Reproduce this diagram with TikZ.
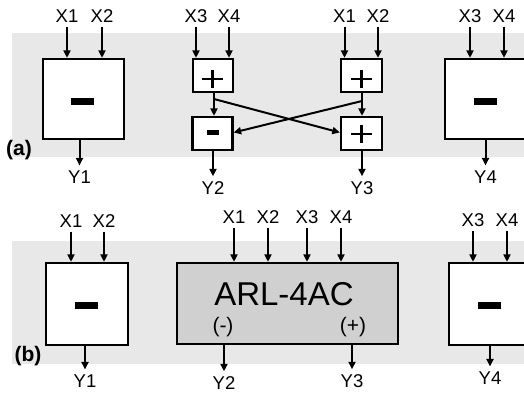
\documentclass[tikz,border=0pt]{standalone}
\usepackage{fontspec}
\setmainfont{Liberation Sans}
\usetikzlibrary{arrows.meta}
\definecolor{band}{HTML}{E8E8E8}
\definecolor{arlgray}{HTML}{D0D0D0}
\begin{document}
\begin{tikzpicture}[x=1pt,y=-1pt,
  lbl/.style={inner sep=0pt,font=\fontsize{18.5}{18.5}\selectfont},
  panel/.style={font=\fontsize{21}{21}\selectfont\bfseries,inner sep=0pt},
  box/.style={draw,line width=2.3pt,fill=white,inner sep=0pt},
  arr/.style={line width=2pt,-{Triangle[length=7.5pt,width=7pt]}},
  bigbar/.style={fill=black,minimum width=23pt,minimum height=7pt,inner sep=0pt},
  smallbar/.style={fill=black,minimum width=12pt,minimum height=4.5pt,inner sep=0pt},
  plusline/.style={line width=2.7pt}
]
\useasboundingbox (0,0) rectangle (524,392);
\begin{scope}
\clip (0,0) rectangle (524,392);
% bands
\fill[band] (12,33) rectangle (530,157);
\fill[band] (12,241) rectangle (530,364);

% ---------- panel (a) ----------
\node[box,minimum width=81pt,minimum height=80pt] (A) at (83.5,99) {};
\node[bigbar] (Abar) at (82.5,101.5) {};
\node[box,minimum width=40pt,minimum height=33pt] (P1) at (213,75.5) {};
\node[box,minimum width=40pt,minimum height=33pt] (M1) at (212.5,133.5) {};
\node[box,minimum width=41pt,minimum height=33pt] (P2) at (361.5,75.5) {};
\node[box,minimum width=41pt,minimum height=33pt] (P3) at (361.5,133.5) {};
\node[box,minimum width=81pt,minimum height=80pt] (D) at (485.5,99) {};
\node[bigbar] (Dbar) at (485,101.5) {};
% plus / minus glyphs
\draw[plusline] (202,79) -- (223,79) (212.5,70) -- (212.5,88);
\draw[plusline] (351,79) -- (372,79) (361.5,70) -- (361.5,88);
\draw[plusline] (351,134) -- (372,134) (361.5,125) -- (361.5,143);
\node[smallbar] (Mbar) at (212.5,132.5) {};

\node[panel] (la) at (19,150) {(a)};

% inputs
\node[lbl] (aX1) at (67,16) {X1};
\node[lbl] (aX2) at (102,16) {X2};
\node[lbl] (aX3) at (196,16) {X3};
\node[lbl] (aX4) at (229,16) {X4};
\node[lbl] (aX1b) at (344.5,16) {X1};
\node[lbl] (aX2b) at (378,16) {X2};
\node[lbl] (aX3b) at (470,16) {X3};
\node[lbl] (aX4b) at (504,16) {X4};
\foreach \l/\b in {aX1/A,aX2/A,aX3/P1,aX4/P1,aX1b/P2,aX2b/P2,aX3b/D,aX4b/D}
  \draw[arr,shorten <=4pt] (\l.south) -- (\l.south |- \b.north);

% outputs
\node[lbl] (aY1) at (79.5,177) {Y1};
\node[lbl] (aY2) at (213,188) {Y2};
\node[lbl] (aY3) at (362,188) {Y3};
\node[lbl] (aY4) at (485.5,177) {Y4};
\draw[arr,shorten >=5pt] (A.south -| aY1) -- (aY1.north);
\draw[arr,shorten >=5pt] (M1.south -| aY2) -- (aY2.north);
\draw[arr,shorten >=5pt] (P3.south -| aY3) -- (aY3.north);
\draw[arr,shorten >=5pt] (D.south -| aY4) -- (aY4.north);

% internal connections
\coordinate (c1) at (214,99);
\coordinate (c2) at (362,101);
\draw[arr] (P1.south -| c1) -- (M1.north -| c1);
\draw[arr] (P2.south -| c2) -- (P3.north -| c2);
\draw[arr] (c1) -- ([yshift=1pt]P3.west);
\draw[arr] (c2) -- ([yshift=1pt]M1.east);

% ---------- panel (b) ----------
\node[box,minimum width=82pt,minimum height=82pt] (E) at (87,304) {};
\node[bigbar] (Ebar) at (86.5,305.5) {};
\node[box,fill=arlgray,minimum width=221pt,minimum height=81pt] (ARL) at (287.5,303.5) {};
\node[inner sep=0pt,font=\fontsize{33}{33}\selectfont] (ARLt) at (284,294) {ARL-4AC};
\node[inner sep=0pt,font=\fontsize{21}{21}\selectfont] (neg) at (223,327) {(-)};
\node[inner sep=0pt,font=\fontsize{21}{21}\selectfont] (pos) at (353,327) {(+)};
\node[box,minimum width=82pt,minimum height=82pt] (F) at (490,304) {};
\node[bigbar] (Fbar) at (489,305.5) {};

\node[panel] (lb) at (28,356) {(b)};

\node[lbl] (bX1) at (71,221) {X1};
\node[lbl] (bX2) at (104,221) {X2};
\node[lbl] (bX1c) at (234,217) {X1};
\node[lbl] (bX2c) at (268,217) {X2};
\node[lbl] (bX3c) at (307,217) {X3};
\node[lbl] (bX4c) at (341,217) {X4};
\node[lbl] (bX3) at (473,220) {X3};
\node[lbl] (bX4) at (507,220) {X4};
\foreach \l/\b in {bX1/E,bX2/E,bX1c/ARL,bX2c/ARL,bX3c/ARL,bX4c/ARL,bX3/F,bX4/F}
  \draw[arr,shorten <=4pt] (\l.south) -- (\l.south |- \b.north);

\node[lbl] (bY1) at (85,381) {Y1};
\node[lbl] (bY2) at (224,383) {Y2};
\node[lbl] (bY3) at (352,381) {Y3};
\node[lbl] (bY4) at (490,378) {Y4};
\draw[arr,shorten >=5pt] (E.south -| bY1) -- (bY1.north);
\draw[arr,shorten >=5pt] (ARL.south -| bY2) -- (bY2.north);
\draw[arr,shorten >=5pt] (ARL.south -| bY3) -- (bY3.north);
\draw[arr,shorten >=5pt] (F.south -| bY4) -- (bY4.north);
\end{scope}
\end{tikzpicture}
\end{document}
